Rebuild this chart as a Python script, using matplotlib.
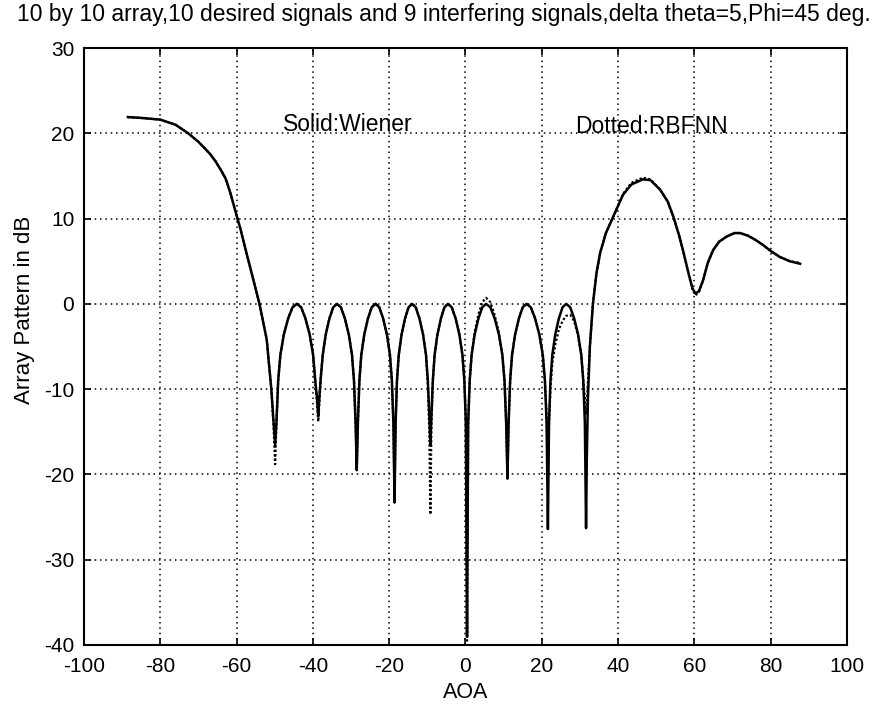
import matplotlib
matplotlib.use("Agg")
import matplotlib.pyplot as plt

plt.rcParams['font.family'] = ['Liberation Sans', 'DejaVu Sans']
plt.rcParams['axes.unicode_minus'] = False

title = "10 by 10 array,10 desired signals and 9 interfering signals,delta theta=5,Phi=45 deg."
xlabel = "AOA"
ylabel = "Array Pattern in dB"
xticks = [-100, -80, -60, -40, -20, 0, 20, 40, 60, 80, 100]
yticks = [-40, -30, -20, -10, 0, 10, 20, 30]

aoa = [
    -88.5, -85, -80, -76, -72.7, -70, -67, -65.5, -64, -63, -62.5, -61.5, -60.4, -59, -58, -56, -54, -52.1, -50.9, -50.3,
    -49.9,
    -49.56, -49.10, -48.53, -47.62, -46.48, -45.34, -44.2, -43.08, -41.96, -40.84, -39.94, -39.38, -38.94,
    -38.6,
    -38.31, -37.91, -37.42, -36.64, -35.66, -34.68, -33.7, -32.66, -31.62, -30.58, -29.75, -29.23, -28.81,
    -28.5,
    -28.21, -27.81, -27.32, -26.54, -25.56, -24.58, -23.6, -22.6, -21.6, -20.6, -19.8, -19.3, -18.9,
    -18.6,
    -18.32, -17.96, -17.50, -16.76, -15.84, -14.92, -14.0, -13.04, -12.08, -11.12, -10.35, -9.87, -9.49,
    -9.2,
    -8.92, -8.56, -8.10, -7.36, -6.44, -5.52, -4.6, -3.6, -2.6, -1.6, -0.8, -0.3, 0.1,
    0.4,
    0.70, 1.10, 1.60, 2.40, 3.40, 4.40, 5.4, 6.52, 7.64, 8.76, 9.66, 10.22, 10.66,
    11.0,
    11.30, 11.70, 12.20, 13.00, 14.00, 15.00, 16.0, 17.12, 18.24, 19.36, 20.26, 20.82, 21.26,
    21.6,
    21.89, 22.27, 22.75, 23.52, 24.48, 25.44, 26.4, 27.44, 28.48, 29.52, 30.35, 30.87, 31.29,
    31.6,
    31.8, 32.1, 32.6, 33.4, 34.3, 35.3, 36.8, 38.7, 41.3, 43.5, 46.5, 48.5, 51, 53, 54.5, 56, 57,
    58.5, 59.5, 60.3, 61.2, 62.3, 63.5, 64.9, 66.5, 68.5, 70.5, 72, 74, 76, 78, 80, 82.4, 85, 87.7,
]

wiener = [
    21.9, 21.8, 21.6, 21.0, 20.0, 19.0, 17.6, 16.7, 15.6, 14.8, 14.2, 12.8, 11.0, 8.8, 7.0, 3.5, 0.0, -4.2, -10.0, -14.0,
    -16.5,
    -14, -9, -6, -3.6, -1.7, -0.4, 0, -0.4, -1.7, -3.6, -6, -9, -11,
    -13.2,
    -11, -8.5, -6, -3.6, -1.7, -0.4, 0, -0.4, -1.7, -3.6, -6, -9, -14,
    -19.5,
    -14, -9, -6, -3.6, -1.7, -0.4, 0, -0.4, -1.7, -3.6, -6, -9, -14,
    -23.3,
    -14, -9, -6, -3.6, -1.7, -0.4, 0, -0.4, -1.7, -3.6, -6, -9, -13,
    -16.5,
    -13, -9, -6, -3.6, -1.7, -0.4, 0, -0.4, -1.7, -3.6, -6, -9, -14,
    -39.0,
    -14, -9, -6, -3.6, -1.7, -0.4, 0, -0.4, -1.7, -3.6, -6, -9, -14,
    -20.5,
    -14, -9, -6, -3.6, -1.7, -0.4, 0, -0.4, -1.7, -3.6, -6, -9, -14,
    -26.4,
    -14, -9, -6, -3.6, -1.7, -0.4, 0, -0.4, -1.7, -3.6, -6, -9, -14,
    -26.3,
    -18, -11, -5, 0, 3.5, 6.0, 8.3, 10.2, 12.8, 14.0, 14.6, 14.5, 13.4, 12.0, 10.2, 8.0, 6.3,
    3.5, 1.8, 1.2, 1.5, 2.8, 4.8, 6.3, 7.3, 7.9, 8.3, 8.3, 8.0, 7.5, 6.9, 6.2, 5.5, 5.0, 4.7,
]

rbfnn = [
    21.9, 21.8, 21.6, 21.0, 20.0, 19.0, 17.6, 16.7, 15.6, 14.8, 14.2, 12.8, 11.0, 8.8, 7.0, 3.5, 0.0, -4.2, -10.0, -14.5,
    -18.8,
    -14, -9, -6, -3.6, -1.7, -0.4, 0, -0.4, -1.7, -3.6, -6, -9, -11.5,
    -13.8,
    -11.5, -8.5, -6, -3.6, -1.7, -0.4, 0, -0.4, -1.7, -3.6, -6, -9, -14,
    -19.0,
    -14, -9, -6, -3.6, -1.7, -0.4, 0, -0.4, -1.7, -3.6, -6, -9, -14,
    -22.5,
    -14, -9, -6, -3.6, -1.7, -0.4, 0, -0.4, -1.7, -3.6, -6, -9.5, -15,
    -24.7,
    -14, -9, -6, -3.6, -1.7, -0.4, 0, -0.4, -1.7, -3.6, -6, -9, -14,
    -39.5,
    -14, -9, -6, -3.3, -1.2, 0.2, 0.7, 0.2, -1.3, -3.4, -6, -9, -14,
    -20.3,
    -14, -9, -6, -3.6, -1.7, -0.4, 0, -0.4, -1.7, -3.6, -6, -9, -13,
    -21.0,
    -14, -10, -7, -4.8, -3.0, -2.0, -1.4, -1.3, -2.0, -3.8, -6.0, -9.0, -11,
    -13.0,
    -12, -9, -5, 0, 3.5, 6.0, 8.3, 10.2, 12.9, 14.2, 14.8, 14.6, 13.4, 12.0, 10.2, 8.0, 6.3,
    3.5, 1.7, 1.0, 1.4, 2.8, 4.8, 6.3, 7.3, 7.9, 8.3, 8.3, 8.0, 7.5, 6.9, 6.2, 5.5, 5.0, 4.8,
]

fig = plt.figure(figsize=(8.87, 7.04), dpi=100)
ax = fig.add_axes([84/887, 1-645/704, (847-84)/887, (645-48)/704])

ax.plot(aoa, wiener, color='black', linewidth=1.8, solid_joinstyle='round')
ax.plot(aoa, rbfnn, color='black', linewidth=1.6, linestyle=(0, (1, 1)))

ax.set_xlim(-100, 100)
ax.set_ylim(-40, 30)
ax.set_xticks(xticks)
ax.set_yticks(yticks)
ax.grid(True, color='black', linestyle=(0, (1, 2.5)), linewidth=1.1)
for s in ax.spines.values():
    s.set_linewidth(1.5)
ax.tick_params(direction='in', length=5, width=1.2, labelsize=15,
               top=True, right=True)
ax.tick_params(axis='x', pad=9)
ax.tick_params(axis='y', pad=7)

ax.text(-47.8, 20.3, "Solid:Wiener", fontsize=16.5, va='baseline', ha='left')
ax.text(28.7, 20.0, "Dotted:RBFNN", fontsize=16.5, va='baseline', ha='left')

ax.set_xlabel(xlabel, fontsize=15.5)
ax.set_ylabel(ylabel, fontsize=16)
ax.xaxis.set_label_coords(0.5, -0.062)
ax.yaxis.set_label_coords(-0.064, 0.561)
fig.text(444/887, 1-14/704, title, fontsize=16.5, ha='center', va='center')

fig.savefig("out.png", dpi=100)
